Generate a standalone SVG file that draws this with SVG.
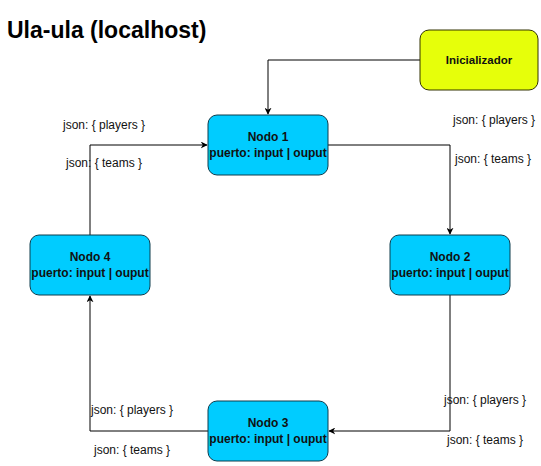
<svg xmlns="http://www.w3.org/2000/svg" width="541" height="466" viewBox="0 0 541 466">
<style>
.node rect{stroke-width:1}
.blue{fill:#00ccff;stroke:#0f3d4d}
.yellow{fill:#e6ff0a;stroke:#333300}
.nt{font-family:"Liberation Sans",Arial,sans-serif;font-weight:bold;font-size:12px;fill:#111;text-anchor:middle}
.lbl{font-family:"Liberation Sans",Arial,sans-serif;font-size:12px;fill:#111;text-anchor:middle}
.edge{fill:none;stroke:#000;stroke-width:1}
</style>
<defs>
<marker id="arr" viewBox="0 0 10 10" refX="9" refY="5" markerWidth="7" markerHeight="7" orient="auto" markerUnits="userSpaceOnUse">
<path d="M0,0 L10,5 L0,10 L3,5 Z" fill="#000"/>
</marker>
</defs>
<rect width="541" height="466" fill="#fff"/>
<text x="7" y="38" font-family="Liberation Sans,Arial,sans-serif" font-weight="bold" font-size="23" fill="#000">Ula-ula (localhost)</text>
<g id="connectors">
<path class="edge" d="M420,60 H268 V114" marker-end="url(#arr)"/>
<path class="edge" d="M328,145 H450 V234" marker-end="url(#arr)"/>
<path class="edge" d="M450,295 V431 H329" marker-end="url(#arr)"/>
<path class="edge" d="M208,431 H90 V296" marker-end="url(#arr)"/>
<path class="edge" d="M90,235 V145 H207" marker-end="url(#arr)"/>
<text class="lbl" x="104" y="129">json: { players }</text>
<text class="lbl" x="104" y="167">json: { teams }</text>
<text class="lbl" x="494" y="124">json: { players }</text>
<text class="lbl" x="493" y="163">json: { teams }</text>
<text class="lbl" x="132" y="414">json: { players }</text>
<text class="lbl" x="132" y="454">json: { teams }</text>
<text class="lbl" x="485" y="404">json: { players }</text>
<text class="lbl" x="485" y="444">json: { teams }</text>
</g>
<g id="inicializador" class="node">
<rect class="yellow" x="420" y="30" width="118" height="60" rx="9"/>
<text class="nt" x="479" y="64" style="font-size:11.5px">Inicializador</text>
</g>
<g id="nodo1" class="node">
<rect class="blue" x="208" y="115" width="120" height="60" rx="9"/>
<text class="nt" x="268" y="141">Nodo 1</text>
<text class="nt" x="268" y="157">puerto: input | ouput</text>
</g>
<g id="nodo2" class="node">
<rect class="blue" x="390" y="235" width="120" height="60" rx="9"/>
<text class="nt" x="450" y="261">Nodo 2</text>
<text class="nt" x="450" y="277">puerto: input | ouput</text>
</g>
<g id="nodo3" class="node">
<rect class="blue" x="208" y="401" width="120" height="60" rx="9"/>
<text class="nt" x="268" y="427">Nodo 3</text>
<text class="nt" x="268" y="443">puerto: input | ouput</text>
</g>
<g id="nodo4" class="node">
<rect class="blue" x="30" y="235" width="120" height="60" rx="9"/>
<text class="nt" x="90" y="261">Nodo 4</text>
<text class="nt" x="90" y="277">puerto: input | ouput</text>
</g>
</svg>
